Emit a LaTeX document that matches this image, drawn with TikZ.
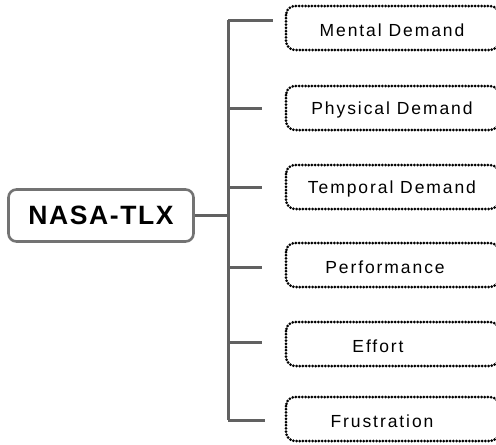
\documentclass[tikz,border=0pt]{standalone}
\usepackage{fontspec}
\setmainfont{Liberation Sans}
\newfontfamily\smallfnt[LetterSpace=11]{Liberation Sans}
\newfontfamily\bigfnt[LetterSpace=6]{Liberation Sans}
\begin{document}
\begin{tikzpicture}[x=1pt,y=-1pt,
  mainbox/.style={draw=black!55, line width=2.6pt, rounded corners=8pt, minimum width=185pt, minimum height=52pt, inner sep=0pt, font=\bigfnt\fontsize{26.5}{28}\selectfont\bfseries},
  leafbox/.style={draw=black, line width=3pt, dash pattern=on 0pt off 3.2pt, line cap=round, rounded corners=9pt},
  leaftext/.style={font=\smallfnt\fontsize{17.5}{19}\selectfont, inner sep=0pt},
  conn/.style={draw=black!62, line width=3pt}]
\useasboundingbox (0,0) rectangle (496,445);
\begin{scope}
\clip (0,0) rectangle (496,445);
\node[mainbox] (main) at (101,215.5) {NASA-TLX};
\coordinate (vtop) at (228,20);
\coordinate (vbot) at (228,420);
\coordinate (vmid) at (228,215.5);
\draw[conn] (vtop) -- (vbot);
\draw[conn] (main.east) -- (vmid);
% leaf boxes
\foreach \nm/\yc/\tx/\txt in {a/28/392/Mental Demand,b/108/392/Physical Demand,c/187/392/Temporal Demand,d/265/385/Performance,e/344/378/Effort,f/419/382/Frustration}{
  \draw[leafbox] (286,\yc-22) rectangle (499,\yc+22);
  \node[leaftext] (\nm) at (\tx,\yc+2) {\txt};
}
\coordinate (ha) at (273,20);
\coordinate (hb) at (262,108);
\coordinate (hc) at (262,187);
\coordinate (hd) at (262,267);
\coordinate (he) at (262,342);
\coordinate (hf) at (265,420);
\draw[conn] (vtop) -- (ha);
\draw[conn] (228,108) -- (hb);
\draw[conn] (228,187) -- (hc);
\draw[conn] (228,267) -- (hd);
\draw[conn] (228,342) -- (he);
\draw[conn] (vbot) -- (hf);
\end{scope}
\end{tikzpicture}
\end{document}
